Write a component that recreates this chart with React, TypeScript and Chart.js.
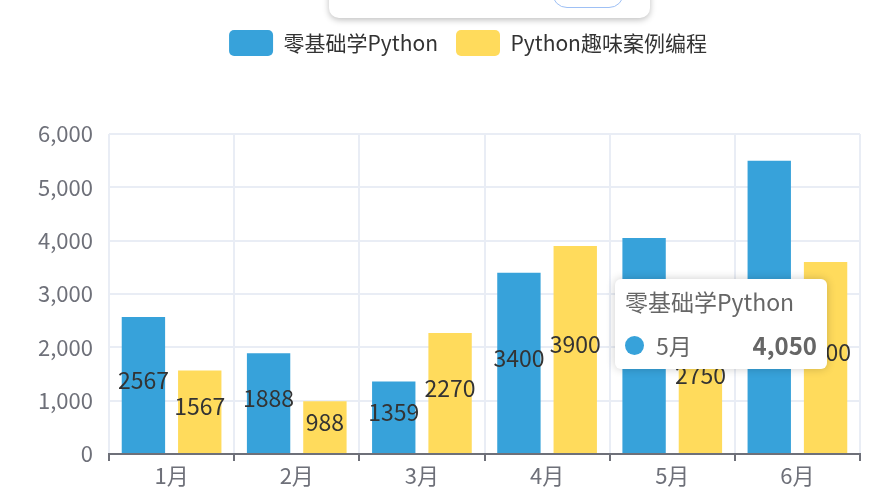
import React, { useEffect, useRef } from "react";
import { Chart, registerables } from "chart.js";

Chart.register(...registerables);

const categories = ["1月", "2月", "3月", "4月", "5月", "6月"];
const seriesNames = ["零基础学Python", "Python趣味案例编程"];
const seriesA = [2567, 1888, 1359, 3400, 4050, 5500];
const seriesB = [1567, 988, 2270, 3900, 2750, 3600];
const yTicks = [0, 1000, 2000, 3000, 4000, 5000, 6000];
const colors = ["#37A2DA", "#FFDB5C"];
const activeSeries = 0;
const activeIndex = 4;

const FONT = "'Noto Sans CJK SC', 'Noto Sans', sans-serif";

const legendSpace = {
  id: "legendSpace",
  beforeInit(chart: any) {
    const legend = chart.legend;
    if (!legend) return;
    const orig = legend.fit;
    legend.fit = function () {
      orig.call(this);
      this.height = 134;
    };
  },
  afterLayout(chart: any) {
    const legend = chart.legend;
    if (!legend) return;
    legend.top += 12;
    const d = 468 - (legend.left + legend.right) / 2;
    legend.left += d;
    legend.right += d;
  },
};

const valueLabels = {
  id: "valueLabels",
  afterDatasetsDraw(chart: any) {
    const ctx = chart.ctx;
    ctx.save();
    ctx.font = `23px ${FONT}`;
    ctx.fillStyle = "#333";
    ctx.textAlign = "center";
    ctx.textBaseline = "middle";
    chart.data.datasets.forEach((ds: any, di: number) => {
      const meta = chart.getDatasetMeta(di);
      meta.data.forEach((el: any, i: number) => {
        const y = (el.y + el.base) / 2 - 5;
        ctx.fillText(String(ds.data[i]), el.x, y);
      });
    });
    ctx.restore();
  },
};

export default function App() {
  const canvasRef = useRef<HTMLCanvasElement | null>(null);
  const tipRef = useRef<HTMLDivElement | null>(null);

  useEffect(() => {
    document.body.style.margin = "0";
    const canvas = canvasRef.current!;
    Chart.defaults.font.family = FONT;

    const external = (context: any) => {
      const tip = tipRef.current;
      if (!tip) return;
      const model = context.tooltip;
      if (model.opacity === 0 || !model.dataPoints || !model.dataPoints.length) {
        tip.style.display = "none";
        return;
      }
      const dp = model.dataPoints[0];
      const name = dp.dataset.label;
      const cat = dp.label;
      const val = Number(dp.raw).toLocaleString("en-US");
      const col = dp.dataset.backgroundColor;
      tip.style.display = "block";
      tip.innerHTML = `
        <div style="font-size:23px;color:#666;line-height:30px;white-space:nowrap">${name}</div>
        <div style="display:flex;align-items:center;margin-top:14px;line-height:30px;white-space:nowrap">
          <span style="display:inline-block;width:19px;height:19px;border-radius:50%;background:${col};margin-right:12px"></span>
          <span style="font-size:23px;color:#666">${cat}</span>
          <span style="flex:1"></span>
          <span style="font-size:24px;color:#666;font-weight:bold">${val}</span>
        </div>`;
    };

    const chart = new Chart(canvas, {
      type: "bar",
      data: {
        labels: categories,
        datasets: [
          { label: seriesNames[0], data: seriesA, backgroundColor: colors[0], borderWidth: 0 },
          { label: seriesNames[1], data: seriesB, backgroundColor: colors[1], borderWidth: 0 },
        ],
      },
      options: {
        animation: false,
        responsive: false,
        maintainAspectRatio: false,
        layout: { padding: { left: 0, right: 32, top: 0, bottom: 0 } },
        datasets: {
          bar: { categoryPercentage: 0.9, barPercentage: 0.77 },
        },
        plugins: {
          legend: {
            display: true,
            position: "top",
            labels: {
              boxWidth: 44,
              boxHeight: 26,
              useBorderRadius: true,
              borderRadius: 5,
              padding: 18,
              color: "#333",
              font: { size: 21, family: FONT },
            },
          },
          tooltip: {
            enabled: false,
            mode: "nearest",
            intersect: true,
            external,
          },
        },
        scales: {
          x: {
            offset: true,
            grid: {
              offset: true,
              color: "#E9EDF5",
              lineWidth: 2,
              drawTicks: true,
              tickLength: 7,
              tickColor: "#6E7079",
              tickWidth: 2,
            },
            border: { display: true, color: "#6E7079", width: 2 },
            ticks: { color: "#6E7079", font: { size: 22, family: FONT }, padding: 1 },
            afterFit(scale: any) {
              scale.height = 40;
            },
          },
          y: {
            min: 0,
            max: 6000,
            afterBuildTicks(scale: any) {
              scale.ticks = yTicks.map((v) => ({ value: v }));
            },
            grid: { color: "#E9EDF5", lineWidth: 2, drawTicks: false },
            border: { display: false },
            ticks: {
              color: "#6E7079",
              font: { size: 22, family: FONT },
              padding: 16,
              callback: (v: any) => Number(v).toLocaleString("en-US"),
            },
            afterFit(scale: any) {
              scale.width = 109;
            },
          },
        },
      },
      plugins: [legendSpace, valueLabels],
    });

    chart.tooltip!.setActiveElements([{ datasetIndex: activeSeries, index: activeIndex }], { x: 605, y: 270 });
    chart.update();

    return () => {
      chart.destroy();
    };
  }, []);

  return (
    <div style={{ position: "relative", width: 892, height: 494, overflow: "hidden", background: "#fff" }}>
      <canvas ref={canvasRef} width={892} height={494} style={{ display: "block", width: 892, height: 494 }} />
      <div
        style={{
          position: "absolute",
          left: 329,
          top: -42,
          width: 321,
          height: 60,
          background: "#fff",
          borderRadius: 10,
          boxShadow: "0 2px 6px rgba(0,0,0,0.25)",
        }}
      >
        <div
          style={{
            position: "absolute",
            left: 223,
            top: 20,
            width: 72,
            height: 30,
            border: "1px solid #9EC0F5",
            borderRadius: 16,
            boxSizing: "border-box",
          }}
        />
      </div>
      <div
        ref={tipRef}
        style={{
          position: "absolute",
          left: 615,
          top: 279,
          width: 212,
          height: 90,
          boxSizing: "border-box",
          padding: "7px 10px 0 10px",
          background: "#fff",
          borderRadius: 6,
          boxShadow: "0 0 10px rgba(0,0,0,0.2)",
          fontFamily: FONT,
          display: "none",
        }}
      />
    </div>
  );
}
